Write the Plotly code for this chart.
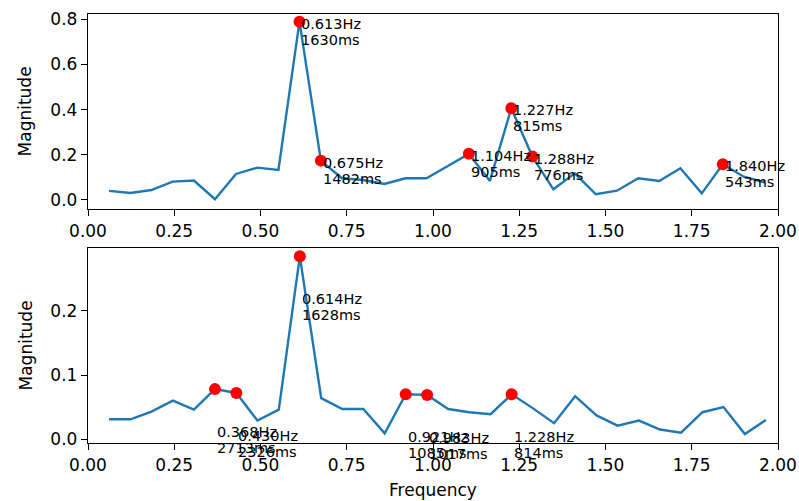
import plotly.graph_objects as go
from plotly.subplots import make_subplots

# ---- data ----
freq_top = [0.061, 0.123, 0.184, 0.245, 0.307, 0.368, 0.429, 0.491, 0.552, 0.613,
            0.675, 0.736, 0.797, 0.859, 0.920, 0.981, 1.043, 1.104, 1.165, 1.227,
            1.288, 1.349, 1.411, 1.472, 1.533, 1.595, 1.656, 1.717, 1.779, 1.840,
            1.901, 1.963]
mag_top = [0.040, 0.031, 0.044, 0.081, 0.086, 0.003, 0.115, 0.143, 0.133, 0.789,
           0.174, 0.096, 0.088, 0.071, 0.096, 0.096, 0.150, 0.204, 0.084, 0.406,
           0.192, 0.047, 0.118, 0.025, 0.041, 0.096, 0.084, 0.140, 0.029, 0.158,
           0.103, 0.077]
peaks_top = [9, 10, 17, 19, 20, 29]
hz_top = ["0.613Hz", "0.675Hz", "1.104Hz", "1.227Hz", "1.288Hz", "1.840Hz"]
ms_top = ["1630ms", "1482ms", "905ms", "815ms", "776ms", "543ms"]

freq_bot = [0.061, 0.123, 0.184, 0.246, 0.307, 0.368, 0.430, 0.491, 0.553, 0.614,
            0.676, 0.737, 0.798, 0.860, 0.921, 0.983, 1.044, 1.105, 1.167, 1.228,
            1.290, 1.351, 1.412, 1.474, 1.535, 1.597, 1.658, 1.719, 1.781, 1.842,
            1.904, 1.965]
mag_bot = [0.031, 0.031, 0.043, 0.060, 0.046, 0.078, 0.072, 0.029, 0.046, 0.285,
           0.064, 0.047, 0.047, 0.009, 0.070, 0.069, 0.047, 0.042, 0.039, 0.070,
           0.048, 0.025, 0.067, 0.037, 0.021, 0.029, 0.015, 0.010, 0.042, 0.050,
           0.008, 0.030]
peaks_bot = [5, 6, 9, 14, 15, 19]
hz_bot = ["0.368Hz", "0.430Hz", "0.614Hz", "0.921Hz", "0.983Hz", "1.228Hz"]
ms_bot = ["2713ms", "2326ms", "1628ms", "1085ms", "1017ms", "814ms"]

x_ticks = [0.0, 0.25, 0.5, 0.75, 1.0, 1.25, 1.5, 1.75, 2.0]
y_ticks_top = [0.0, 0.2, 0.4, 0.6, 0.8]
y_ticks_bot = [0.0, 0.1, 0.2]

FONT = "DejaVu Sans"
LINE_C = "#1f77b4"

fig = make_subplots(rows=2, cols=1, vertical_spacing=0.0)

for row, fx, my, pk, hz, ms in [(1, freq_top, mag_top, peaks_top, hz_top, ms_top),
                                (2, freq_bot, mag_bot, peaks_bot, hz_bot, ms_bot)]:
    fig.add_trace(go.Scatter(x=fx, y=my, mode="lines",
                             line=dict(color=LINE_C, width=2.4),
                             showlegend=False, hoverinfo="skip"), row=row, col=1)
    px = [fx[i] for i in pk]
    py = [my[i] for i in pk]
    fig.add_trace(go.Scatter(x=px, y=py, mode="markers",
                             marker=dict(color="red", size=12, line=dict(width=0)),
                             showlegend=False, hoverinfo="skip"), row=row, col=1)
    off1 = -2 if row == 1 else -43
    for x, y, h, m in zip(px, py, hz, ms):
        for txt, sh in ((h, off1), (m, off1 - 16)):
            fig.add_annotation(x=x, y=y, text=txt, showarrow=False,
                               xanchor="left", yanchor="middle", align="left",
                               xshift=1, yshift=sh, borderpad=0,
                               font=dict(family=FONT, size=14.5, color="black"),
                               row=row, col=1)

axis_common = dict(showline=True, linecolor="black", linewidth=1.4, mirror=True,
                   ticks="outside", ticklen=6, tickwidth=1.4, tickcolor="black",
                   showgrid=False, zeroline=False, automargin=False,
                   tickfont=dict(family=FONT, size=17, color="black"))

fig.update_xaxes(range=[0, 2], tickvals=x_ticks,
                 ticktext=["%.2f" % v for v in x_ticks], **axis_common)
fig.update_xaxes(domain=[0, 1], row=1, col=1)
fig.update_xaxes(domain=[0, 1], row=2, col=1,
                 title=dict(text="Frequency", font=dict(family=FONT, size=17, color="black"),
                            standoff=10))

fig.update_yaxes(**axis_common)
fig.update_yaxes(range=[-0.040, 0.823], tickvals=y_ticks_top,
                 ticktext=["%.1f" % v for v in y_ticks_top],
                 domain=[0.5455, 1.0], row=1, col=1)
fig.update_yaxes(range=[-0.006, 0.298], tickvals=y_ticks_bot,
                 ticktext=["%.1f" % v for v in y_ticks_bot],
                 domain=[0.0, 0.4545], row=2, col=1)

# y-axis titles placed as rotated paper annotations
for ymid in [(0.5455 + 1.0) / 2, 0.4545 / 2]:
    fig.add_annotation(xref="paper", yref="paper", x=-0.0899, y=ymid,
                       text="Magnitude", showarrow=False, textangle=-90,
                       xanchor="center", yanchor="middle",
                       font=dict(family=FONT, size=17, color="black"))

fig.update_layout(width=799, height=501,
                  margin=dict(l=88, r=21, t=14, b=58),
                  plot_bgcolor="white", paper_bgcolor="white",
                  font=dict(family=FONT, color="black"))

fig.write_html("out.html")
